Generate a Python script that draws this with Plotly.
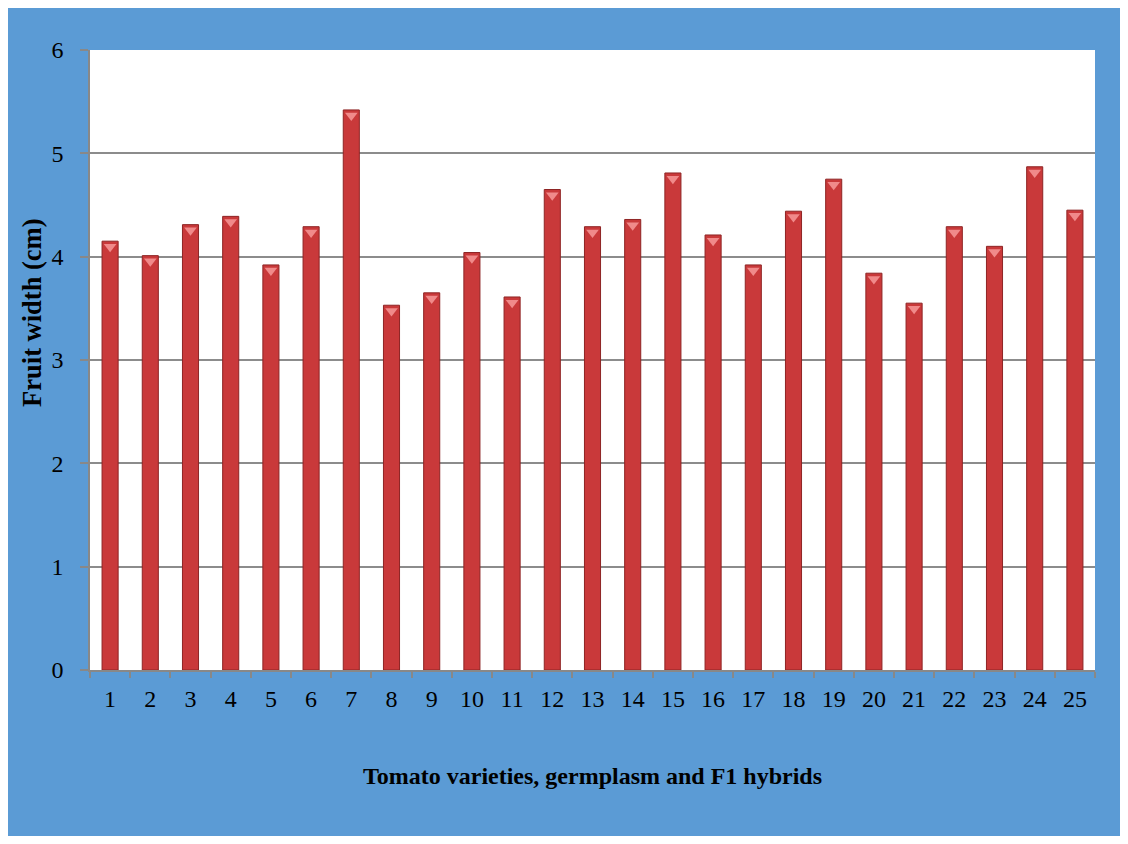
import plotly.graph_objects as go

# Fruit width per genotype
genotypes = [str(i) for i in range(1, 26)]
fruit_width = [4.15, 4.01, 4.31, 4.39, 3.92, 4.29, 5.42, 3.53, 3.65, 4.04,
               3.61, 4.65, 4.29, 4.36, 4.81, 4.21, 3.92, 4.44, 4.75, 3.84,
               3.55, 4.29, 4.10, 4.87, 4.45]
y_ticks = [0, 1, 2, 3, 4, 5, 6]

# figure sits 8px inside the page (default body margin)
W, H = 1112, 828
L, R, T, B = 82, 1087, 42, 662
blue = '#5B9BD5'
font_family = 'Liberation Serif, Times New Roman, serif'

fig = go.Figure()

fig.add_trace(go.Bar(
    x=genotypes,
    y=fruit_width,
    marker=dict(color='#C9393A', line=dict(color='#8E2424', width=1)),
    hoverinfo='x+y',
))

# small pink cone on top of each bar (3D look)
fig.add_trace(go.Scatter(
    x=genotypes,
    y=[v - 0.055 for v in fruit_width],
    mode='markers',
    marker=dict(symbol='triangle-down', size=11, color='#F08A8A',
                line=dict(width=0)),
    hoverinfo='skip',
))

fig.update_layout(
    width=W, height=H,
    margin=dict(l=L, r=W - R, t=T, b=H - B, pad=0),
    paper_bgcolor=blue,
    plot_bgcolor='white',
    showlegend=False,
    bargap=0.6,
    font=dict(family=font_family, color='black'),
    xaxis=dict(
        type='category',
        range=[-0.5, len(genotypes) - 0.5],
        showline=True, linecolor='#888888', linewidth=1.5,
        ticks='outside', tickson='boundaries', ticklen=6,
        tickcolor='#888888', tickwidth=1.5,
        tickfont=dict(size=24),
        ticklabelstandoff=6,
        showgrid=False,
        title=dict(text='<b>Tomato varieties, germplasm and F1 hybrids</b>',
                   font=dict(size=24), standoff=57),
    ),
    yaxis=dict(
        range=[0, 6], tickvals=y_ticks,
        showline=True, linecolor='#888888', linewidth=1.5,
        ticks='outside', ticklen=8, tickcolor='#888888', tickwidth=1.5,
        tickfont=dict(size=24),
        ticklabelstandoff=12,
        showgrid=True, gridcolor='#8C8C8C', gridwidth=1.5,
        zeroline=False,
    ),
    annotations=[dict(
        text='<b>Fruit width (cm)</b>', textangle=-90,
        xref='paper', yref='paper', x=-0.0577, y=0.576,
        xanchor='center', yanchor='middle', showarrow=False,
        font=dict(size=26.5),
    )],
)

fig.write_html("out.html")
